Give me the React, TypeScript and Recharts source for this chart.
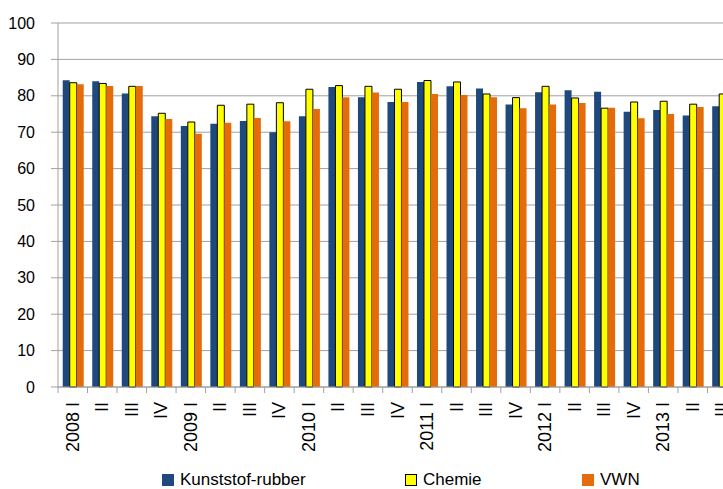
import React from 'react';
import { BarChart, Bar, XAxis, YAxis, CartesianGrid, Legend } from 'recharts';

const categories = ['2008 I', 'II', 'III', 'IV', '2009 I', 'II', 'III', 'IV', '2010 I', 'II', 'III', 'IV', '2011 I', 'II', 'III', 'IV', '2012 I', 'II', 'III', 'IV', '2013 I', 'II', 'III'];
const kunststof = [84.3, 84.0, 80.6, 74.4, 71.7, 72.3, 73.1, 70.0, 74.4, 82.4, 79.6, 78.3, 83.8, 82.6, 82.0, 77.6, 81.0, 81.5, 81.1, 75.6, 76.1, 74.6, 77.1];
const chemie = [83.6, 83.4, 82.6, 75.2, 72.8, 77.4, 77.7, 78.1, 81.8, 82.8, 82.6, 81.8, 84.2, 83.8, 80.5, 79.5, 82.6, 79.4, 76.6, 78.3, 78.5, 77.7, 80.5];
const vwn = [83.2, 82.7, 82.7, 73.6, 69.6, 72.6, 73.9, 73.0, 76.4, 79.6, 80.9, 78.3, 80.5, 80.2, 79.6, 76.6, 77.6, 78.0, 76.7, 73.8, 75.0, 76.9, 78.0];
const yTicks = [0, 10, 20, 30, 40, 50, 60, 70, 80, 90, 100];

const data = categories.map((q, i) => ({ q, kunststof: kunststof[i], chemie: chemie[i], vwn: vwn[i] }));

const FONT = '"Liberation Sans Narrow", "Arial Narrow", "Liberation Sans", Arial, sans-serif';
const GRID = '#a0a0a0';
const BLUE = '#1F497D';
const YELLOW = '#FFFF00';
const ORANGE = '#E46C0A';

const QuarterTick = (props: any) => {
  const { x, y, payload } = props;
  const off = payload && payload.offset ? payload.offset : 0;
  return (
    <g>
      <line x1={x - off} x2={x - off} y1={y} y2={y + 6} stroke={GRID} strokeWidth={1} />
      <text
        x={x}
        y={y + 15}
        transform={`rotate(-90, ${x}, ${y + 15})`}
        textAnchor="end"
        dominantBaseline="central"
        fontFamily={FONT}
        fontSize={18}
        fill="#000"
      >
        {payload.value}
      </text>
    </g>
  );
};

const legendItems = [
  { label: 'Kunststof-rubber', color: BLUE, border: BLUE, left: 162 },
  { label: 'Chemie', color: YELLOW, border: '#000', left: 405 },
  { label: 'VWN', color: ORANGE, border: ORANGE, left: 582 },
];

const LegendContent = () => (
  <div style={{ position: 'relative', width: 740, height: 22 }}>
    {legendItems.map((it) => (
      <div
        key={it.label}
        style={{ position: 'absolute', left: it.left, top: 0, height: 22, display: 'flex', alignItems: 'center', fontFamily: FONT, fontSize: 17, color: '#000', whiteSpace: 'nowrap' }}
      >
        <span style={{ display: 'inline-block', width: 10, height: 10, background: it.color, border: `1px solid ${it.border}`, marginRight: 6 }} />
        <span>{it.label}</span>
      </div>
    ))}
  </div>
);

export default function App() {
  return (
    <div style={{ position: 'absolute', left: 0, top: 0, width: 723, height: 489, overflow: 'hidden', background: '#fff' }}>
      <BarChart
        width={740}
        height={489}
        data={data}
        margin={{ top: 23, right: 3, bottom: 0, left: 0 }}
        barCategoryGap="16%"
        barGap={0}
      >
        <CartesianGrid vertical={false} stroke={GRID} strokeWidth={1} />
        <XAxis
          dataKey="q"
          interval={0}
          height={79}
          tickLine={false}
          tickSize={0}
          tickMargin={0}
          axisLine={{ stroke: GRID }}
          tick={<QuarterTick />}
        />
        <YAxis
          width={58}
          domain={[0, 100]}
          ticks={yTicks}
          interval={0}
          tickSize={7}
          tickMargin={16}
          axisLine={{ stroke: GRID }}
          tickLine={{ stroke: GRID }}
          tick={{ fontFamily: FONT, fontSize: 16, fill: '#000' }}
        />
        <Legend verticalAlign="bottom" height={23} content={<LegendContent />} wrapperStyle={{ left: 0, top: 469, width: 740 }} />
        <Bar dataKey="kunststof" name="Kunststof-rubber" fill={BLUE} isAnimationActive={false} />
        <Bar dataKey="chemie" name="Chemie" fill={YELLOW} stroke="#000" strokeWidth={1} isAnimationActive={false} />
        <Bar dataKey="vwn" name="VWN" fill={ORANGE} isAnimationActive={false} />
      </BarChart>
    </div>
  );
}
